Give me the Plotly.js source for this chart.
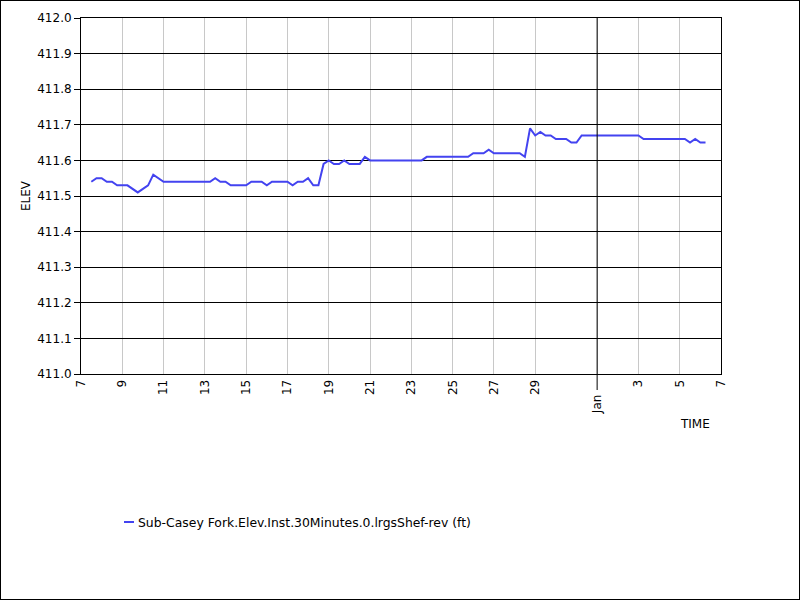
<!DOCTYPE html>
<html>
<head>
<meta charset="utf-8">
<script src="https://cdn.plot.ly/plotly-3.0.1.min.js"></script>
<style>
  html, body { margin: 0; padding: 0; background: #fff; }
  #chart { width: 800px; height: 600px; }
  #frame { position: absolute; left: 0; top: 0; width: 798px; height: 598px; border: 1px solid #000; pointer-events: none; }
</style>
</head>
<body>
<div id="chart"></div>
<div id="frame"></div>
<script>
// ---- data ----
const seriesName = "Sub-Casey Fork.Elev.Inst.30Minutes.0.lrgsShef-rev (ft)";
const times = [
  "2023-12-07 12:00","2023-12-07 18:00","2023-12-08 00:00","2023-12-08 06:00","2023-12-08 12:00",
  "2023-12-08 18:00","2023-12-09 06:00","2023-12-09 12:00","2023-12-09 18:00","2023-12-10 00:00",
  "2023-12-10 06:00","2023-12-10 12:00","2023-12-10 18:00","2023-12-11 00:00","2023-12-13 06:00",
  "2023-12-13 12:00","2023-12-13 18:00","2023-12-14 00:00","2023-12-14 06:00","2023-12-15 00:00",
  "2023-12-15 06:00","2023-12-15 18:00","2023-12-16 00:00","2023-12-16 06:00","2023-12-17 00:00",
  "2023-12-17 06:00","2023-12-17 12:00","2023-12-17 18:00","2023-12-18 00:00","2023-12-18 06:00",
  "2023-12-18 12:00","2023-12-18 18:00","2023-12-19 00:00","2023-12-19 06:00","2023-12-19 12:00",
  "2023-12-19 18:00","2023-12-20 00:00","2023-12-20 12:00","2023-12-20 18:00","2023-12-21 00:00",
  "2023-12-23 12:00","2023-12-23 18:00","2023-12-25 18:00","2023-12-26 00:00","2023-12-26 12:00",
  "2023-12-26 18:00","2023-12-27 00:00","2023-12-28 06:00","2023-12-28 12:00","2023-12-28 18:00",
  "2023-12-29 00:00","2023-12-29 06:00","2023-12-29 12:00","2023-12-29 18:00","2023-12-30 00:00",
  "2023-12-30 12:00","2023-12-30 18:00","2023-12-31 00:00","2023-12-31 06:00","2024-01-03 00:00",
  "2024-01-03 06:00","2024-01-05 06:00","2024-01-05 12:00","2024-01-05 18:00","2024-01-06 00:00",
  "2024-01-06 06:00"
];
const elev = [
  411.54,411.55,411.55,411.54,411.54,
  411.53,411.53,411.52,411.51,411.52,
  411.53,411.56,411.55,411.54,411.54,
  411.55,411.54,411.54,411.53,411.53,
  411.54,411.54,411.53,411.54,411.54,
  411.53,411.54,411.54,411.55,411.53,
  411.53,411.59,411.60,411.59,411.59,
  411.60,411.59,411.59,411.61,411.60,
  411.60,411.61,411.61,411.62,411.62,
  411.63,411.62,411.62,411.61,411.69,
  411.67,411.68,411.67,411.67,411.66,
  411.66,411.65,411.65,411.67,411.67,
  411.66,411.66,411.65,411.66,411.65,
  411.65
];
const xRange = ["2023-12-07", "2024-01-07"];
const yRange = [411.0, 412.0];
const tickDates = ["2023-12-07","2023-12-09","2023-12-11","2023-12-13","2023-12-15","2023-12-17",
  "2023-12-19","2023-12-21","2023-12-23","2023-12-25","2023-12-27","2023-12-29",
  "2024-01-01","2024-01-03","2024-01-05","2024-01-07"];
const tickLabels = ["7","9","11","13","15","17","19","21","23","25","27","29","","3","5","7"];
const monthDate = "2024-01-01";
const monthLabel = "Jan";
const yTitle = "ELEV";
const xTitle = "TIME";

// ---- chart ----
const FONT = "DejaVu Sans, Verdana, sans-serif";
const lineColor = "#4343f0";
const t0 = Date.parse(xRange[0] + "T00:00:00Z"), t1 = Date.parse(xRange[1] + "T00:00:00Z");
const monthFrac = (Date.parse(monthDate + "T00:00:00Z") - t0) / (t1 - t0);

const trace = {
  x: times, y: elev, type: "scatter", mode: "lines", name: seriesName,
  line: { color: lineColor, width: 2 }, showlegend: false, hoverinfo: "x+y"
};

const plotH = 356, plotW = 640;
const layout = {
  width: 800, height: 600,
  margin: { l: 81, r: 79, t: 18, b: 226 },
  paper_bgcolor: "#fff", plot_bgcolor: "#fff",
  font: { family: FONT, size: 12, color: "#000" },
  xaxis: {
    type: "date", range: xRange,
    tickmode: "array", tickvals: tickDates, ticktext: tickLabels,
    tickangle: -90, ticks: "", showgrid: true, gridcolor: "#c8c8c8", gridwidth: 1,
    showline: true, linecolor: "#000", linewidth: 1, mirror: true,
    zeroline: false, tickfont: { family: FONT, size: 12, color: "#000" }
  },
  yaxis: {
    range: yRange, dtick: 0.1, tick0: 411, tickformat: ".1f",
    ticks: "outside", ticklen: 6, tickcolor: "#000", tickwidth: 1,
    showgrid: true, gridcolor: "#000", gridwidth: 1,
    showline: true, linecolor: "#000", linewidth: 1, mirror: true,
    zeroline: false, tickfont: { family: FONT, size: 12, color: "#000" }
  },
  shapes: [
    { type: "line", xref: "paper", yref: "paper", x0: monthFrac, x1: monthFrac,
      y0: -16 / plotH, y1: 1, line: { color: "#000", width: 1 }, layer: "above" },
    { type: "line", xref: "paper", yref: "paper", x0: (124 - 81) / plotW, x1: (134 - 81) / plotW,
      y0: (374 - 522) / plotH, y1: (374 - 522) / plotH, line: { color: lineColor, width: 2 } }
  ],
  annotations: [
    { text: monthLabel, xref: "paper", yref: "paper", x: monthFrac, y: -18 / plotH,
      xanchor: "center", yanchor: "top", textangle: -90, showarrow: false,
      font: { family: FONT, size: 12, color: "#000" } },
    { text: yTitle, xref: "paper", yref: "paper", x: (26 - 81) / plotW, y: 0.5,
      xanchor: "center", yanchor: "middle", textangle: -90, showarrow: false,
      font: { family: FONT, size: 12, color: "#000" } },
    { text: xTitle, xref: "paper", yref: "paper", x: (695 - 81) / plotW, y: (374 - 424) / plotH,
      xanchor: "center", yanchor: "middle", showarrow: false,
      font: { family: FONT, size: 12, color: "#000" } },
    { text: seriesName, xref: "paper", yref: "paper", x: (136 - 81) / plotW, y: (374 - 522) / plotH,
      xanchor: "left", yanchor: "middle", showarrow: false,
      font: { family: FONT, size: 12.4, color: "#000" } }
  ]
};

Plotly.newPlot("chart", [trace], layout, { staticPlot: true, displayModeBar: false });
</script>
</body>
</html>
